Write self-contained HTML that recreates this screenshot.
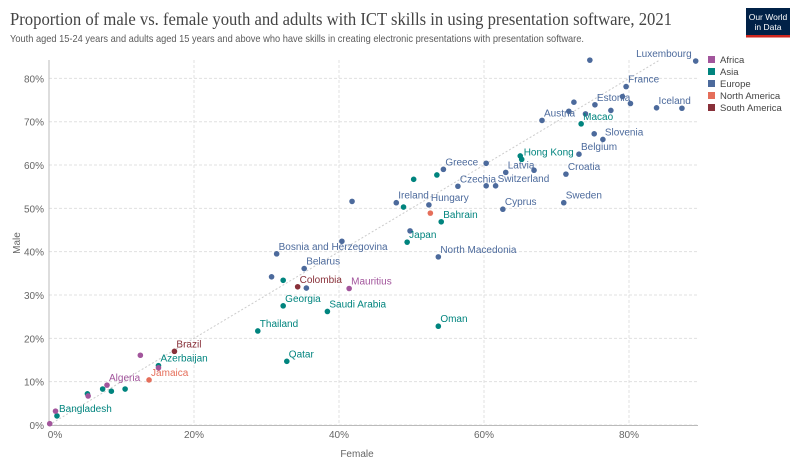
<!DOCTYPE html>
<html><head><meta charset="utf-8"><style>
body{margin:0;background:#fff;font-family:"Liberation Sans",sans-serif;}
svg text{font-family:"Liberation Sans",sans-serif;}
</style></head><body>
<svg id="chart" width="800" height="466" viewBox="0 0 800 466" xmlns="http://www.w3.org/2000/svg">
<rect width="800" height="466" fill="#fff"/>
<text x="10" y="25" style="font-family:'Liberation Serif',serif" font-size="18" fill="#444" textLength="662" lengthAdjust="spacingAndGlyphs">Proportion of male vs. female youth and adults with ICT skills in using presentation software, 2021</text>
<text x="10" y="42" font-size="10.5" fill="#5b5b5b" textLength="574" lengthAdjust="spacingAndGlyphs">Youth aged 15-24 years and adults aged 15 years and above who have skills in creating electronic presentations with presentation software.</text>
<g>
<rect x="746" y="8" width="44" height="29" fill="#002147"/>
<rect x="746" y="35" width="44" height="2.5" fill="#ce261e"/>
<text x="768" y="20" font-size="8.5" fill="#fff" text-anchor="middle">Our World</text>
<text x="768" y="30" font-size="8.5" fill="#fff" text-anchor="middle">in Data</text>
</g>
<g id="grid"></g><g id="axes"></g><g id="marks"></g><g id="legend"></g>
</svg>
<script>
const ticks=[0,10,20,30,40,50,60,70,80];
const xTicks=[0,20,40,60,80];
const regions=["Africa","Asia","Europe","North America","South America"];
const colors={"Africa":"#a2559c","Asia":"#00847e","Europe":"#4c6a9c","North America":"#e56e5a","South America":"#883039"};
const names=["Luxembourg","","France","Estonia","","","","","Iceland","","Austria","","","Slovenia","","Belgium","Croatia","Sweden","Latvia","","","Greece","Czechia","","Switzerland","Cyprus","Ireland","Hungary","","","North Macedonia","","Bosnia and Herzegovina","Belarus","","",
"Macao","Hong Kong","","","","","Bahrain","Japan","","Georgia","Saudi Arabia","Oman","Thailand","Qatar","Azerbaijan","","","","","Bangladesh",
"Mauritius","Algeria","","","","","",
"Jamaica","",
"Brazil","Colombia"];
const region=["Europe","Europe","Europe","Europe","Europe","Europe","Europe","Europe","Europe","Europe","Europe","Europe","Europe","Europe","Europe","Europe","Europe","Europe","Europe","Europe","Europe","Europe","Europe","Europe","Europe","Europe","Europe","Europe","Europe","Europe","Europe","Europe","Europe","Europe","Europe","Europe",
"Asia","Asia","Asia","Asia","Asia","Asia","Asia","Asia","Asia","Asia","Asia","Asia","Asia","Asia","Asia","Asia","Asia","Asia","Asia","Asia",
"Africa","Africa","Africa","Africa","Africa","Africa","Africa",
"North America","North America",
"South America","South America"];
const female=[89.2,74.6,79.6,75.3,72.4,79.1,80.2,77.5,83.8,87.3,68.0,71.7,74.0,76.4,75.2,73.1,71.3,71.0,63.0,66.9,60.3,54.4,56.4,60.3,61.6,62.6,47.9,52.4,41.8,49.8,53.7,40.4,31.4,35.2,30.7,35.5,
73.4,65.2,65.0,50.3,53.5,48.9,54.1,49.4,32.3,32.3,38.4,53.7,28.8,32.8,15.1,7.4,8.6,10.5,5.3,1.1,
41.4,8.0,12.6,15.1,5.4,0.9,0.1,
13.8,52.6,
17.3,34.3];
const male=[84.0,84.2,78.1,73.9,74.5,75.8,74.2,72.6,73.2,73.1,70.3,72.4,71.8,65.9,67.2,62.5,57.9,51.3,58.3,58.8,60.4,59.0,55.1,55.2,55.2,49.8,51.3,50.8,51.6,44.8,38.8,42.4,39.5,36.1,34.2,31.6,
69.5,61.3,62.1,56.7,57.7,50.3,46.9,42.2,33.4,27.5,26.2,22.8,21.7,14.7,13.7,8.3,7.8,8.3,7.2,2.1,
31.5,9.2,16.1,13.2,6.7,3.2,0.3,
10.4,48.9,
17.0,31.9];
const NS="http://www.w3.org/2000/svg";
const X=v=>49+7.25*v, Y=v=>425-4.333*v;
function mk(tag,attrs,parent,txt){const e=document.createElementNS(NS,tag);for(const k in attrs)e.setAttribute(k,attrs[k]);if(txt!==undefined)e.textContent=txt;parent.appendChild(e);return e;}
const grid=document.getElementById('grid'),axes=document.getElementById('axes'),marks=document.getElementById('marks'),legend=document.getElementById('legend');
ticks.forEach(t=>{
 const l=mk('line',{x1:49,x2:698,y1:Y(t),y2:Y(t),stroke:'#e0e0e0','stroke-dasharray':'3,2'},grid);
 
 
 const tx=mk('text',{x:44,y:Y(t)+4,'font-size':'10','fill':'#666','text-anchor':'end'},axes,t+'%');
 
 
});
xTicks.forEach(t=>{
 if(t>0){const l=mk('line',{x1:X(t),x2:X(t),y1:60,y2:425,stroke:'#e0e0e0','stroke-dasharray':'3,2'},grid);
 
 }
 const tx=mk('text',{x:t===0?X(t)+6:X(t),y:438,'font-size':'10',fill:'#666','text-anchor':'middle'},axes,t+'%');
 
 
});
let ax=mk('line',{x1:49,x2:49,y1:60,y2:426,stroke:'#bbb','stroke-width':1},axes);


ax=mk('line',{x1:49,x2:698,y1:425.5,y2:425.5,stroke:'#bbb','stroke-width':1},axes);


let t1=mk('text',{x:357,y:457,'font-size':'10','fill':'#666','text-anchor':'middle'},axes,'Female');


t1=mk('text',{x:20,y:243,'font-size':'10','fill':'#666','text-anchor':'middle',transform:'rotate(-90 20 243)'},axes,'Male');


const diag=mk('line',{x1:X(0),y1:Y(0),x2:X(84.2),y2:Y(84.2),stroke:'#ccc','stroke-dasharray':'2,2'},grid);


female.forEach((f,i)=>{
 const c=mk('circle',{cx:X(f),cy:Y(male[i]),r:2.8,fill:colors[region[i]]},marks);
 
 
 if(names[i]){
  const left=names[i]==='Luxembourg';
  const t=mk('text',{x:left?X(f)-4:X(f)+2,y:Y(male[i])-4,'font-size':'10','text-anchor':left?'end':'start',fill:colors[region[i]]},marks,names[i]);
  
  
 }
});
regions.forEach((r,i)=>{
 const g=mk('g',{},legend);
 
 
 mk('rect',{x:708,y:56+i*12,width:7,height:7,fill:colors[r]},g);
 mk('text',{x:720,y:63+i*12,'font-size':'9.5',fill:'#444'},g,r);
});
</script>
</body></html>
